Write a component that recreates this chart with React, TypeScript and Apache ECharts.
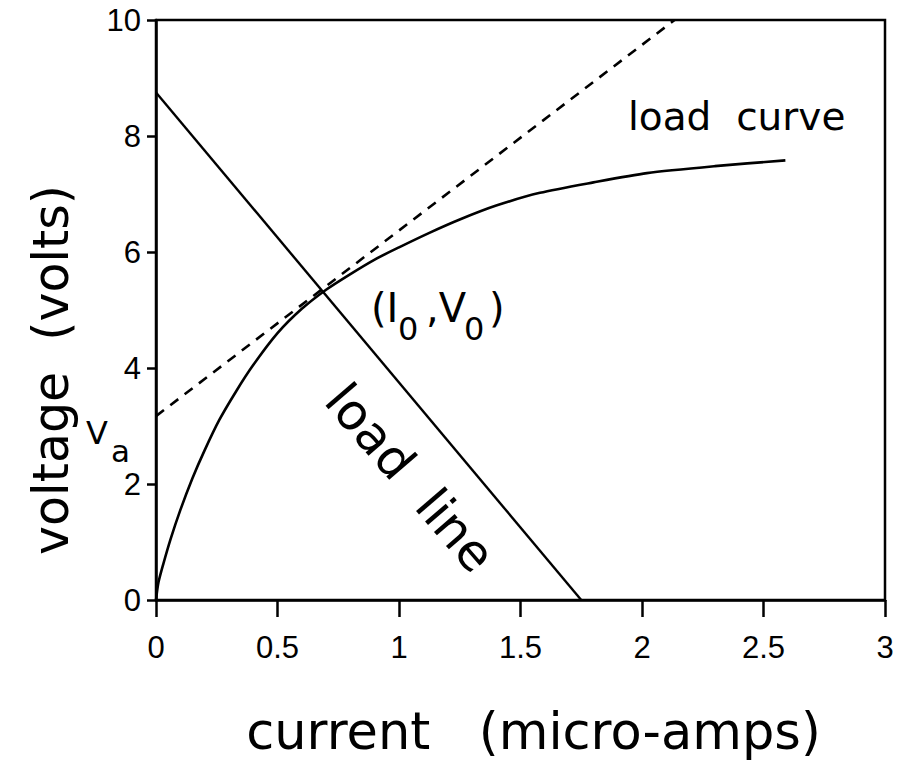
import React, { useEffect, useRef } from "react";
import * as echarts from "echarts";

// Load curve of the device: current (micro-amps) vs voltage (volts)
const curveCurrent = [0, 0.01, 0.03, 0.06, 0.1, 0.15, 0.2, 0.26, 0.33, 0.4, 0.5, 0.6, 0.7, 0.8, 0.9, 1.0, 1.125, 1.25, 1.4, 1.58, 1.8, 2.02, 2.3, 2.59];
const curveVoltage = [0, 0.3, 0.62, 1.05, 1.55, 2.1, 2.58, 3.1, 3.6, 4.05, 4.6, 5.02, 5.35, 5.62, 5.87, 6.08, 6.33, 6.56, 6.8, 7.02, 7.2, 7.36, 7.48, 7.58];

// Straight load line: end points on the two axes
const loadLineCurrent = [0, 1.75];
const loadLineVoltage = [8.75, 0];

// Tangent at the operating point, meeting the voltage axis at Va
const tangentCurrent = [0, 2.134];
const tangentVoltage = [3.17, 10];

// Axis ranges and tick steps
const xRange = [0, 3];
const xStep = 0.5;
const yRange = [0, 10];
const yStep = 2;

const TITLE_FONT = "DejaVu Sans";
const TICK_FONT = "Liberation Sans";

function pairs(xs: number[], ys: number[]) {
  return xs.map((x, i) => [x, ys[i]]);
}

function label(
  text: string,
  x: number,
  y: number,
  size: number,
  align: string = "left",
  rotation: number = 0
) {
  return {
    type: "text",
    x,
    y,
    rotation,
    style: {
      text,
      fill: "#000",
      font: `${size}px "${TITLE_FONT}"`,
      textAlign: align,
      textVerticalAlign: "middle",
    },
  };
}

export default function App() {
  const ref = useRef<HTMLDivElement>(null);

  useEffect(() => {
    document.body.style.margin = "0";
    const chart = echarts.init(ref.current!, null, { renderer: "svg" });

    chart.setOption({
      animation: false,
      backgroundColor: "#fff",
      grid: {
        left: 156,
        right: 15,
        top: 20,
        bottom: 166,
        show: true,
        borderColor: "#000",
        borderWidth: 2.5,
      },
      xAxis: {
        type: "value",
        min: xRange[0],
        max: xRange[1],
        interval: xStep,
        name: "current   (micro-amps)",
        nameLocation: "middle",
        nameGap: 106,
        nameTextStyle: {
          fontFamily: TITLE_FONT,
          fontSize: 51,
          color: "#000",
          padding: [0, 0, 0, 26],
        },
        axisLine: { show: true, lineStyle: { color: "#000", width: 2.5 } },
        axisTick: { show: true, inside: false, length: 17, lineStyle: { color: "#000", width: 2.5 } },
        axisLabel: {
          margin: 32,
          fontFamily: TICK_FONT,
          fontSize: 31,
          color: "#000",
        },
        splitLine: { show: false },
      },
      yAxis: {
        type: "value",
        min: yRange[0],
        max: yRange[1],
        interval: yStep,
        name: "voltage  (volts)",
        nameLocation: "middle",
        nameRotate: 90,
        nameGap: 80,
        nameTextStyle: {
          fontFamily: TITLE_FONT,
          fontSize: 49,
          color: "#000",
          padding: [0, 120, 0, 0],
        },
        axisLine: { show: true, lineStyle: { color: "#000", width: 2.5 } },
        axisTick: { show: true, inside: false, length: 9, lineStyle: { color: "#000", width: 2.5 } },
        axisLabel: {
          margin: 15,
          fontFamily: TICK_FONT,
          fontSize: 31,
          color: "#000",
        },
        splitLine: { show: false },
      },
      series: [
        {
          name: "load line",
          type: "line",
          data: pairs(loadLineCurrent, loadLineVoltage),
          showSymbol: false,
          lineStyle: { color: "#000", width: 2.4 },
        },
        {
          name: "tangent",
          type: "line",
          data: pairs(tangentCurrent, tangentVoltage),
          showSymbol: false,
          lineStyle: { color: "#000", width: 2.6, type: [10, 8] },
        },
        {
          name: "load curve",
          type: "line",
          data: pairs(curveCurrent, curveVoltage),
          showSymbol: false,
          smooth: 0.25,
          lineStyle: { color: "#000", width: 2.6 },
        },
      ],
      graphic: [
        label("load  curve", 628, 116, 39),
        label("load  line", 410, 478, 50, "center", -0.86),
        label("(I", 371, 308, 40),
        label("0", 398, 329, 32),
        label(",V", 426, 308, 40),
        label("0", 464, 329, 32),
        label(")", 489, 308, 40),
        label("V", 86, 433, 32),
        label("a", 111, 451, 31),
      ],
    });

    return () => chart.dispose();
  }, []);

  return <div ref={ref} style={{ width: 900, height: 766 }} />;
}
